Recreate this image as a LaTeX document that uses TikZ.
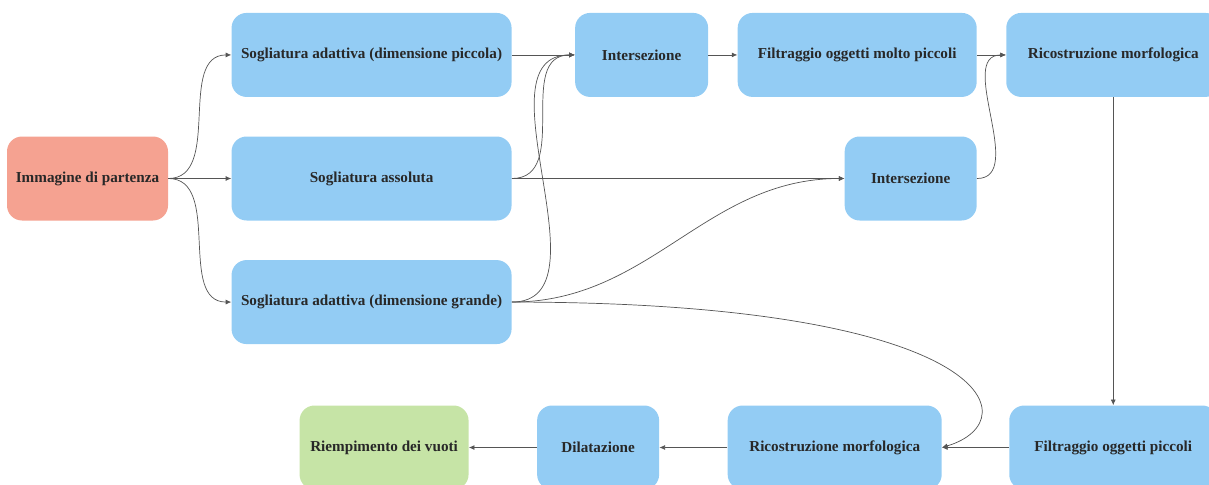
\documentclass[tikz,border=0pt]{standalone}
\usepackage{fontspec}
\setmainfont{Liberation Serif}
\usepackage{xcolor}
\usepackage{tikz}
\usetikzlibrary{arrows.meta,positioning,calc}
\definecolor{boxblue}{RGB}{147,204,244}
\definecolor{boxsalmon}{RGB}{245,162,145}
\definecolor{boxgreen}{RGB}{198,228,166}
\definecolor{linegray}{RGB}{85,85,85}
\definecolor{textdark}{RGB}{40,40,40}

\begin{document}
\begin{tikzpicture}[font=\fontsize{10.8}{13}\selectfont\bfseries, >=Latex]
\tikzstyle{box}=[rounded corners=0.375cm, fill=boxblue, text=textdark, minimum height=2.1cm, align=center]
\tikzstyle{sbox}=[box, fill=boxsalmon]
\tikzstyle{gbox}=[box, fill=boxgreen]
\tikzstyle{link}=[-{Latex[length=4pt,width=3.5pt]}, draw=linegray, line width=0.5pt]
\useasboundingbox (0,0) rectangle (30.225,-12.125);
\node[sbox, minimum width=4.025cm] (img) at (2.1875,-4.4625) {Immagine di partenza};
\node[box, minimum width=7cm, right=1.575cm of img] (abs) {Sogliatura assoluta};
\node[box, minimum width=7cm, above=0.975cm of abs] (sap) {Sogliatura adattiva (dimensione piccola)};
\node[box, minimum width=7cm, below=0.975cm of abs] (sag) {Sogliatura adattiva (dimensione grande)};
\node[box, minimum width=3.325cm, right=1.575cm of sap] (int1) {Intersezione};
\node[box, minimum width=5.975cm, right=0.725cm of int1] (filtm) {Filtraggio oggetti molto piccoli};
\node[box, minimum width=5.35cm, right=0.725cm of filtm] (rict) {Ricostruzione morfologica};
\node[box, minimum width=3.3cm, anchor=east] (int2) at (filtm.east |- abs.east) {Intersezione};
\node[box, minimum width=5.2cm, below=7.7cm of rict] (filtp) {Filtraggio oggetti piccoli};
\node[box, minimum width=5.35cm, left=1.675cm of filtp] (ricb) {Ricostruzione morfologica};
\node[box, minimum width=3.05cm, left=1.7cm of ricb] (dil) {Dilatazione};
\node[gbox, minimum width=4.225cm, left=1.7cm of dil] (riemp) {Riempimento dei vuoti};
\draw[link] (img.east) to[out=0,in=180] (sap.west);
\draw[link] (img) -- (abs);
\draw[link] (img.east) to[out=0,in=180] (sag.west);
\draw[link] (sap) -- (int1);
\draw[link] (abs.east) to[out=0,in=180,distance=1.5cm] (int1.west);
\draw[link] (sag.east) to[out=0,in=180,distance=2.5cm] (int1.west);
\draw[link] (abs) -- (int2);
\draw[link] (sag.east) to[out=0,in=180] (int2.west);
\draw[link] (sag.east) .. controls +(11.975cm,0) and +(2.25cm,0.675cm) .. (ricb.east);
\draw[link] (int1) -- (filtm);
\draw[link] (filtm) -- (rict);
\draw[link] (int2.east) to[out=0,in=180,distance=1.25cm] (rict.west);
\draw[link] (rict) -- (filtp);
\draw[link] (filtp) -- (ricb);
\draw[link] (ricb) -- (dil);
\draw[link] (dil) -- (riemp);
\end{tikzpicture}
\end{document}
